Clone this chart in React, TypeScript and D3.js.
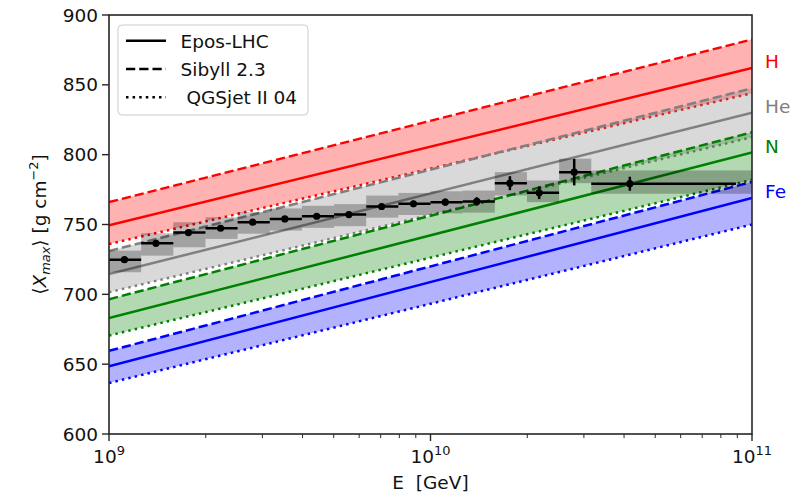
import React from "react";
import * as d3 from "d3";

// model predictions at E = 1e9 and 1e11 GeV
const energies = [1e9, 1e11];
const hEpos = [749.5, 862];
const hSibyll = [766, 882.5];
const hQgs = [736, 844];
const heEpos = [714.5, 830];
const heSibyll = [731, 847.5];
const heQgs = [701.5, 812.5];
const nEpos = [683, 801.5];
const nSibyll = [696.5, 816];
const nQgs = [670.5, 782];
const feEpos = [648.5, 769];
const feSibyll = [659.5, 780.5];
const feQgs = [636.5, 750];

const elements = ["H", "He", "N", "Fe"];
const elementColors = ["red", "gray", "green", "blue"];

// measured <Xmax> (log10 E of the bin mean)
const dataLogE = [9.048, 9.146, 9.247, 9.347, 9.447, 9.547, 9.646, 9.746, 9.848, 9.947, 10.046, 10.144, 10.247, 10.338, 10.447, 10.62];
const dataXmax = [724.8, 736.5, 744.2, 747.3, 751.7, 754, 755.9, 757.1, 762.9, 764.8, 766, 766.5, 779.6, 772.7, 787.5, 779.2];
const statErr = [1.5, 1.5, 1.5, 1.5, 1.5, 1.5, 1.8, 2, 2, 2.2, 2.5, 3, 5, 4.5, 9.5, 5];
const sysUp = [6.5, 7.2, 7.4, 7.9, 7.2, 7.5, 7.5, 7.5, 7.8, 7.8, 7.8, 7.8, 7.9, 8.8, 9.6, 9.5];
const sysDown = [9, 8.8, 10.5, 7.6, 8.3, 8.3, 8.3, 8.3, 8, 8, 8, 8, 8.8, 6.7, 7.9, 7.2];
const binLowLog = [9.0, 9.1, 9.2, 9.3, 9.4, 9.5, 9.6, 9.7, 9.8, 9.9, 10.0, 10.1, 10.2, 10.3, 10.4, 10.5];
const binHighLog = [9.1, 9.2, 9.3, 9.4, 9.5, 9.6, 9.7, 9.8, 9.9, 10.0, 10.1, 10.2, 10.3, 10.4, 10.5, 10.95];
const boxHighLog = [9.1, 9.2, 9.3, 9.4, 9.5, 9.6, 9.7, 9.8, 9.9, 10.0, 10.1, 10.2, 10.3, 10.4, 10.5, 11.0];

const yTicks = [600, 650, 700, 750, 800, 850, 900];
const xTickExp = [9, 10, 11];

const W = 810;
const H = 493;
const margin = { top: 15, right: 58, bottom: 60, left: 109 };
const FONT = "DejaVu Sans, sans-serif";
const FS = 18.5;
const LW = 2.5;
const DASH = "9.25,4";
const DOT = "2.5,4.1";

export default function App() {
  const x = d3.scaleLog().domain([1e9, 1e11]).range([margin.left, W - margin.right]);
  const y = d3.scaleLinear().domain([600, 900]).range([H - margin.bottom + 1, margin.top]);

  const models = [
    [hEpos, hSibyll, hQgs],
    [heEpos, heSibyll, heQgs],
    [nEpos, nSibyll, nQgs],
    [feEpos, feSibyll, feQgs],
  ];

  const line = d3
    .line<number>()
    .x((_, i) => x(energies[i]))
    .y((d) => y(d));

  const band = (top: number[], bot: number[]) =>
    d3
      .area<number>()
      .x((_, i) => x(energies[i]))
      .y0((_, i) => y(bot[i]))
      .y1((_, i) => y(top[i]))(top) || "";

  const minorTicks: number[] = [];
  for (let e = 9; e < 11; e++) {
    for (let m = 2; m <= 9; m++) minorTicks.push(m * Math.pow(10, e));
  }

  const [x0, x1] = x.range();
  const [y0, y1] = y.range();

  return (
    <svg width={W} height={H} style={{ position: "absolute", left: 0, top: 0 }} fontFamily={FONT}>
      <defs>
        <clipPath id="plot">
          <rect x={x0} y={y1} width={x1 - x0} height={y0 - y1} />
        </clipPath>
      </defs>
      <g clipPath="url(#plot)">
        {models.map((m, k) => (
          <g key={elements[k]}>
            <path d={band(m[1], m[2])} fill={elementColors[k]} fillOpacity={0.3} />
            <path d={line(m[0]) || ""} fill="none" stroke={elementColors[k]} strokeWidth={LW} />
            <path d={line(m[1]) || ""} fill="none" stroke={elementColors[k]} strokeWidth={LW} strokeDasharray={DASH} />
            <path d={line(m[2]) || ""} fill="none" stroke={elementColors[k]} strokeWidth={LW} strokeDasharray={DOT} />
          </g>
        ))}
        {dataXmax.map((v, i) => (
          <rect
            key={"box" + i}
            x={x(Math.pow(10, binLowLog[i]))}
            width={x(Math.pow(10, boxHighLog[i])) - x(Math.pow(10, binLowLog[i]))}
            y={y(v + sysUp[i])}
            height={y(v - sysDown[i]) - y(v + sysUp[i])}
            fill="#000"
            fillOpacity={0.25}
          />
        ))}
        {dataXmax.map((v, i) => {
          const cx = x(Math.pow(10, dataLogE[i]));
          return (
            <g key={"pt" + i}>
              <line
                x1={x(Math.pow(10, binLowLog[i]))}
                x2={x(Math.pow(10, binHighLog[i]))}
                y1={y(v)}
                y2={y(v)}
                stroke="#000"
                strokeWidth={LW}
              />
              <line x1={cx} x2={cx} y1={y(v - statErr[i])} y2={y(v + statErr[i])} stroke="#000" strokeWidth={LW} />
              <circle cx={cx} cy={y(v)} r={3.6} fill="#000" />
            </g>
          );
        })}
      </g>

      {/* axes frame */}
      <rect x={x0} y={y1} width={x1 - x0} height={y0 - y1} fill="none" stroke="#262626" strokeWidth={1.6} />

      {yTicks.map((t) => (
        <g key={"yt" + t}>
          <line x1={x0 - 7} x2={x0} y1={y(t)} y2={y(t)} stroke="#262626" strokeWidth={1.4} />
          <text x={x0 - 11} y={y(t)} textAnchor="end" dominantBaseline="central" fontSize={FS} fill="#111">
            {t}
          </text>
        </g>
      ))}

      {xTickExp.map((e) => (
        <g key={"xt" + e}>
          <line x1={x(Math.pow(10, e))} x2={x(Math.pow(10, e))} y1={y0} y2={y0 + 7} stroke="#262626" strokeWidth={1.4} />
          <text x={x(Math.pow(10, e))} y={y0 + 29} textAnchor="middle" fontSize={FS} fill="#111">
            10
            <tspan fontSize={FS * 0.7} dy={-8}>
              {e}
            </tspan>
          </text>
        </g>
      ))}
      {minorTicks.map((t) => (
        <line key={"mt" + t} x1={x(t)} x2={x(t)} y1={y0} y2={y0 + 4} stroke="#262626" strokeWidth={1} />
      ))}

      <text x={(x0 + x1) / 2} y={489} textAnchor="middle" fontSize={FS} fill="#111" style={{ whiteSpace: "pre" }}>
        {"E  [GeV]"}
      </text>

      <text transform={`translate(46,${(y0 + y1) / 2}) rotate(-90)`} textAnchor="middle" fontSize={FS} fill="#111">
        ⟨<tspan fontStyle="italic">X</tspan>
        <tspan fontStyle="italic" fontSize={FS * 0.7} dy={4}>
          max
        </tspan>
        <tspan dy={-4}>⟩ [g cm</tspan>
        <tspan fontSize={FS * 0.7} dy={-8}>
          −2
        </tspan>
        <tspan dy={8}>]</tspan>
      </text>

      {elements.map((el, k) => (
        <text key={"lab" + el} x={765} y={y(models[k][0][1])} fontSize={FS} fill={elementColors[k]}>
          {el}
        </text>
      ))}

      {/* legend */}
      <g>
        <rect x={118} y={25} width={190} height={90} rx={4} fill="#fff" fillOpacity={0.8} stroke="#cccccc" strokeWidth={1} />
        {[
          ["Epos-LHC", ""],
          ["Sibyll 2.3", DASH],
          [" QGSjet II 04", DOT],
        ].map(([label, dash], i) => (
          <g key={label}>
            <line x1={126} x2={166} y1={40.7 + i * 28.3} y2={40.7 + i * 28.3} stroke="#000" strokeWidth={LW} strokeDasharray={dash || undefined} />
            <text x={180.5} y={47.5 + i * 28.3} fontSize={FS} fill="#111" style={{ whiteSpace: "pre" }}>
              {label}
            </text>
          </g>
        ))}
      </g>
    </svg>
  );
}
